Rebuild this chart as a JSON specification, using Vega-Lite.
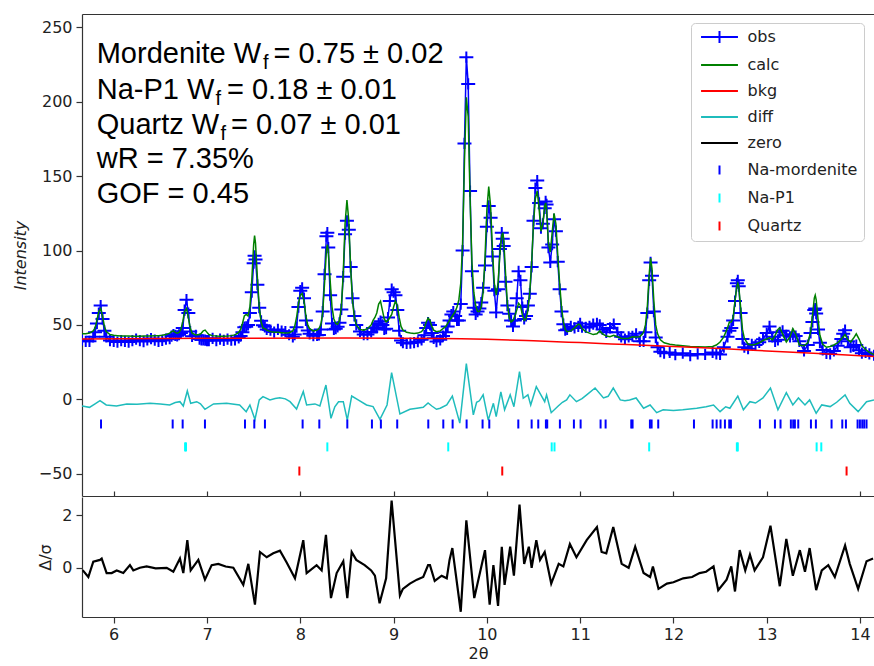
{
  "$schema": "https://vega.github.io/schema/vega-lite/v6.json",
  "padding": {"left": 12, "top": 14, "right": 0, "bottom": 0},
  "spacing": 0,
  "datasets": {
    "prof": [
      {"t":5.66,"calc":44,"obs":40},{"t":5.70,"calc":44,"obs":39},{"t":5.74,"calc":44.5,"obs":39},{"t":5.78,"calc":46,"obs":42},{"t":5.80,"calc":48,"obs":45},{"t":5.82,"calc":53,"obs":51},{"t":5.84,"calc":59,"obs":58},{"t":5.86,"calc":61,"obs":63},{"t":5.88,"calc":56,"obs":54},{"t":5.90,"calc":49,"obs":46},{"t":5.92,"calc":45.5,"obs":42},{"t":5.96,"calc":43.5,"obs":39.5},{"t":6.00,"calc":43,"obs":39},{"t":6.04,"calc":42.8,"obs":38.5},{"t":6.08,"calc":42.6,"obs":39.5},{"t":6.12,"calc":42.5,"obs":39},{"t":6.16,"calc":42.5,"obs":38.5},{"t":6.20,"calc":42.4,"obs":39.5},{"t":6.24,"calc":42.4,"obs":40.5},{"t":6.28,"calc":42.4,"obs":39.5},{"t":6.32,"calc":42.5,"obs":38.8},{"t":6.36,"calc":42.5,"obs":40},{"t":6.40,"calc":42.6,"obs":40.8},{"t":6.44,"calc":42.7,"obs":39.8},{"t":6.48,"calc":42.8,"obs":39},{"t":6.52,"calc":43,"obs":39.6},{"t":6.56,"calc":43.5,"obs":40.5},{"t":6.60,"calc":44.5,"obs":40.7},{"t":6.62,"calc":45.5,"obs":42.5},{"t":6.64,"calc":46,"obs":43.5},{"t":6.66,"calc":45,"obs":43},{"t":6.68,"calc":44.5,"obs":42.7},{"t":6.70,"calc":45,"obs":43.4},{"t":6.72,"calc":47,"obs":44.5},{"t":6.74,"calc":52,"obs":48},{"t":6.76,"calc":59,"obs":60},{"t":6.78,"calc":61,"obs":67},{"t":6.80,"calc":55,"obs":58},{"t":6.82,"calc":48,"obs":45.5},{"t":6.84,"calc":44.5,"obs":42.3},{"t":6.88,"calc":43.2,"obs":43},{"t":6.92,"calc":43.5,"obs":40.5},{"t":6.94,"calc":44.5,"obs":40},{"t":6.96,"calc":46,"obs":40},{"t":6.98,"calc":46.5,"obs":39.8},{"t":7.00,"calc":45,"obs":39.5},{"t":7.02,"calc":43.5,"obs":39.5},{"t":7.06,"calc":42.8,"obs":41},{"t":7.10,"calc":42.5,"obs":39.5},{"t":7.14,"calc":42.4,"obs":40.5},{"t":7.18,"calc":42.4,"obs":39.6},{"t":7.22,"calc":42.5,"obs":40.5},{"t":7.26,"calc":42.8,"obs":39.7},{"t":7.30,"calc":43.3,"obs":39.9},{"t":7.34,"calc":45,"obs":41.3},{"t":7.36,"calc":47,"obs":42.5},{"t":7.38,"calc":51,"obs":45},{"t":7.40,"calc":56,"obs":48.5},{"t":7.42,"calc":57,"obs":48.7},{"t":7.44,"calc":56,"obs":50},{"t":7.46,"calc":62,"obs":58},{"t":7.48,"calc":80,"obs":72},{"t":7.50,"calc":104,"obs":91.5},{"t":7.51,"calc":110,"obs":96.5},{"t":7.52,"calc":105,"obs":94},{"t":7.54,"calc":82,"obs":77},{"t":7.56,"calc":62,"obs":61.6},{"t":7.58,"calc":52,"obs":52.8},{"t":7.60,"calc":48,"obs":49.8},{"t":7.62,"calc":47.5,"obs":48.7},{"t":7.64,"calc":46.5,"obs":47},{"t":7.68,"calc":45.5,"obs":46.5},{"t":7.72,"calc":45,"obs":45.2},{"t":7.76,"calc":45,"obs":47},{"t":7.80,"calc":44.8,"obs":45.8},{"t":7.84,"calc":44.5,"obs":45.5},{"t":7.88,"calc":44.8,"obs":43.4},{"t":7.92,"calc":46,"obs":42},{"t":7.94,"calc":49,"obs":43.5},{"t":7.96,"calc":55,"obs":48.5},{"t":7.98,"calc":64,"obs":62},{"t":8.00,"calc":70,"obs":73},{"t":8.02,"calc":71,"obs":75},{"t":8.04,"calc":66,"obs":68},{"t":8.06,"calc":56,"obs":53},{"t":8.08,"calc":50,"obs":46.2},{"t":8.10,"calc":47.5,"obs":44},{"t":8.14,"calc":46,"obs":42.8},{"t":8.18,"calc":46.5,"obs":43},{"t":8.20,"calc":47.5,"obs":43.3},{"t":8.22,"calc":50,"obs":47},{"t":8.24,"calc":58,"obs":59},{"t":8.26,"calc":78,"obs":84},{"t":8.28,"calc":100,"obs":109.6},{"t":8.29,"calc":104,"obs":112},{"t":8.30,"calc":100,"obs":102},{"t":8.32,"calc":80,"obs":70},{"t":8.34,"calc":62,"obs":51},{"t":8.36,"calc":54,"obs":47},{"t":8.38,"calc":51,"obs":47.5},{"t":8.40,"calc":50.5,"obs":48.7},{"t":8.42,"calc":53,"obs":51.4},{"t":8.44,"calc":62,"obs":60.4},{"t":8.46,"calc":84,"obs":82.4},{"t":8.48,"calc":118,"obs":111},{"t":8.50,"calc":134,"obs":120},{"t":8.52,"calc":120,"obs":114},{"t":8.54,"calc":88,"obs":89},{"t":8.56,"calc":66,"obs":68},{"t":8.58,"calc":55,"obs":56},{"t":8.60,"calc":50,"obs":50},{"t":8.64,"calc":47,"obs":45.5},{"t":8.68,"calc":46.5,"obs":43.5},{"t":8.72,"calc":47.5,"obs":43.5},{"t":8.76,"calc":50,"obs":45.3},{"t":8.78,"calc":53,"obs":48},{"t":8.80,"calc":55,"obs":48},{"t":8.82,"calc":58,"obs":48},{"t":8.84,"calc":64,"obs":51},{"t":8.86,"calc":66,"obs":52.5},{"t":8.88,"calc":60,"obs":50},{"t":8.90,"calc":54,"obs":47},{"t":8.92,"calc":52,"obs":47.5},{"t":8.94,"calc":53,"obs":55},{"t":8.96,"calc":55,"obs":66},{"t":8.98,"calc":57,"obs":74},{"t":9.00,"calc":62,"obs":72},{"t":9.02,"calc":66,"obs":70},{"t":9.04,"calc":63,"obs":60},{"t":9.06,"calc":55,"obs":46},{"t":9.08,"calc":49,"obs":39.5},{"t":9.10,"calc":46.5,"obs":38},{"t":9.14,"calc":45,"obs":37.5},{"t":9.18,"calc":44.5,"obs":37.8},{"t":9.22,"calc":44.3,"obs":38.1},{"t":9.26,"calc":44.5,"obs":38.7},{"t":9.30,"calc":45.5,"obs":40},{"t":9.33,"calc":48,"obs":43},{"t":9.35,"calc":52,"obs":48},{"t":9.37,"calc":54.5,"obs":51.5},{"t":9.39,"calc":53,"obs":50},{"t":9.41,"calc":49,"obs":44.5},{"t":9.43,"calc":46.5,"obs":41},{"t":9.46,"calc":45.5,"obs":38.8},{"t":9.50,"calc":46,"obs":40},{"t":9.53,"calc":47.5,"obs":42.5},{"t":9.56,"calc":49,"obs":45},{"t":9.58,"calc":51,"obs":49},{"t":9.60,"calc":53,"obs":53},{"t":9.62,"calc":55,"obs":57},{"t":9.64,"calc":57,"obs":59},{"t":9.66,"calc":59,"obs":56},{"t":9.68,"calc":62,"obs":53},{"t":9.70,"calc":67,"obs":53},{"t":9.72,"calc":78,"obs":64},{"t":9.74,"calc":105,"obs":100},{"t":9.76,"calc":160,"obs":172},{"t":9.78,"calc":203,"obs":230},{"t":9.80,"calc":190,"obs":212},{"t":9.82,"calc":135,"obs":140},{"t":9.84,"calc":92,"obs":86},{"t":9.86,"calc":72,"obs":61.5},{"t":9.88,"calc":63,"obs":57},{"t":9.90,"calc":59,"obs":59},{"t":9.92,"calc":59,"obs":61},{"t":9.94,"calc":62,"obs":65},{"t":9.96,"calc":72,"obs":75},{"t":9.98,"calc":95,"obs":90},{"t":10.00,"calc":127,"obs":116},{"t":10.02,"calc":143,"obs":130},{"t":10.04,"calc":130,"obs":122},{"t":10.06,"calc":100,"obs":96},{"t":10.08,"calc":78,"obs":73},{"t":10.10,"calc":70,"obs":58.3},{"t":10.12,"calc":78,"obs":74},{"t":10.14,"calc":98,"obs":101},{"t":10.16,"calc":110,"obs":112},{"t":10.17,"calc":112,"obs":108},{"t":10.18,"calc":108,"obs":103},{"t":10.20,"calc":85,"obs":79},{"t":10.22,"calc":64,"obs":63},{"t":10.24,"calc":55,"obs":57.5},{"t":10.26,"calc":52,"obs":53},{"t":10.28,"calc":53,"obs":49},{"t":10.30,"calc":56,"obs":53},{"t":10.32,"calc":60,"obs":68},{"t":10.34,"calc":64.5,"obs":86},{"t":10.36,"calc":63,"obs":80},{"t":10.38,"calc":57,"obs":62},{"t":10.40,"calc":53,"obs":54},{"t":10.42,"calc":54,"obs":56},{"t":10.44,"calc":60,"obs":63},{"t":10.46,"calc":72,"obs":71},{"t":10.48,"calc":92,"obs":89},{"t":10.50,"calc":118,"obs":120},{"t":10.52,"calc":135,"obs":142},{"t":10.54,"calc":140,"obs":147},{"t":10.56,"calc":128,"obs":132},{"t":10.58,"calc":113,"obs":115},{"t":10.60,"calc":118,"obs":118},{"t":10.62,"calc":130,"obs":128.4},{"t":10.63,"calc":132,"obs":133},{"t":10.64,"calc":128,"obs":131},{"t":10.66,"calc":105,"obs":102},{"t":10.68,"calc":99,"obs":92},{"t":10.70,"calc":112,"obs":104},{"t":10.72,"calc":125,"obs":121},{"t":10.74,"calc":118,"obs":113},{"t":10.76,"calc":97,"obs":92.5},{"t":10.78,"calc":78,"obs":74},{"t":10.80,"calc":62,"obs":59},{"t":10.82,"calc":52,"obs":50.5},{"t":10.84,"calc":47,"obs":46.5},{"t":10.86,"calc":45.5,"obs":47},{"t":10.90,"calc":46,"obs":49},{"t":10.94,"calc":48,"obs":48},{"t":10.98,"calc":50.5,"obs":49},{"t":11.00,"calc":50,"obs":51},{"t":11.02,"calc":47.5,"obs":48.5},{"t":11.06,"calc":45.5,"obs":48.3},{"t":11.10,"calc":44.5,"obs":49},{"t":11.14,"calc":43.5,"obs":50.5},{"t":11.18,"calc":44,"obs":51},{"t":11.21,"calc":46,"obs":50},{"t":11.24,"calc":44,"obs":47},{"t":11.28,"calc":42.5,"obs":45},{"t":11.32,"calc":42,"obs":48},{"t":11.36,"calc":43,"obs":50.6},{"t":11.40,"calc":42,"obs":45},{"t":11.44,"calc":41,"obs":42},{"t":11.48,"calc":40.8,"obs":40.4},{"t":11.52,"calc":41,"obs":42},{"t":11.56,"calc":42,"obs":42.4},{"t":11.60,"calc":41.8,"obs":44},{"t":11.64,"calc":42,"obs":39},{"t":11.68,"calc":45,"obs":39},{"t":11.70,"calc":50,"obs":45},{"t":11.72,"calc":62,"obs":58},{"t":11.74,"calc":84,"obs":80},{"t":11.755,"calc":95,"obs":92},{"t":11.77,"calc":88,"obs":83},{"t":11.79,"calc":66,"obs":59},{"t":11.81,"calc":50,"obs":41.5},{"t":11.83,"calc":44,"obs":35},{"t":11.86,"calc":40,"obs":32},{"t":11.90,"calc":38,"obs":31},{"t":11.96,"calc":37,"obs":31.5},{"t":12.02,"calc":36.5,"obs":30},{"t":12.10,"calc":36,"obs":31},{"t":12.18,"calc":35.5,"obs":29.4},{"t":12.26,"calc":35.3,"obs":30.5},{"t":12.34,"calc":35.2,"obs":30.2},{"t":12.42,"calc":35.5,"obs":31.5},{"t":12.46,"calc":36.5,"obs":30.5},{"t":12.50,"calc":38.5,"obs":30.2},{"t":12.54,"calc":42,"obs":35},{"t":12.58,"calc":48,"obs":42},{"t":12.60,"calc":52,"obs":46},{"t":12.62,"calc":52,"obs":48},{"t":12.64,"calc":55,"obs":53},{"t":12.66,"calc":66,"obs":66},{"t":12.68,"calc":76,"obs":78},{"t":12.69,"calc":78,"obs":80},{"t":12.70,"calc":76,"obs":76},{"t":12.72,"calc":62,"obs":58},{"t":12.74,"calc":47,"obs":40.5},{"t":12.76,"calc":41,"obs":35},{"t":12.80,"calc":37,"obs":34},{"t":12.84,"calc":36.5,"obs":37},{"t":12.88,"calc":37,"obs":36.5},{"t":12.92,"calc":38,"obs":38.3},{"t":12.96,"calc":39.5,"obs":40.4},{"t":13.00,"calc":40.5,"obs":44.5},{"t":13.03,"calc":41.5,"obs":49},{"t":13.06,"calc":40,"obs":42},{"t":13.09,"calc":43,"obs":39},{"t":13.12,"calc":47,"obs":40},{"t":13.14,"calc":48,"obs":45},{"t":13.17,"calc":44,"obs":46},{"t":13.21,"calc":38.5,"obs":43},{"t":13.25,"calc":42,"obs":42},{"t":13.28,"calc":47.5,"obs":43.7},{"t":13.31,"calc":44,"obs":42.5},{"t":13.35,"calc":36.5,"obs":39},{"t":13.40,"calc":36,"obs":32.5},{"t":13.44,"calc":38,"obs":36.5},{"t":13.47,"calc":45,"obs":44.6},{"t":13.49,"calc":56,"obs":52},{"t":13.51,"calc":68,"obs":60},{"t":13.52,"calc":70,"obs":61},{"t":13.53,"calc":67,"obs":57.6},{"t":13.55,"calc":54,"obs":47},{"t":13.57,"calc":43,"obs":38},{"t":13.60,"calc":37,"obs":33.2},{"t":13.64,"calc":35,"obs":30.8},{"t":13.68,"calc":35.5,"obs":30.6},{"t":13.72,"calc":36.5,"obs":32.5},{"t":13.76,"calc":38,"obs":36},{"t":13.80,"calc":40.5,"obs":40.5},{"t":13.82,"calc":42,"obs":44},{"t":13.84,"calc":43.5,"obs":46.5},{"t":13.87,"calc":40,"obs":39},{"t":13.90,"calc":38.5,"obs":35},{"t":13.93,"calc":41,"obs":35.5},{"t":13.96,"calc":44,"obs":36.5},{"t":13.99,"calc":40.5,"obs":33},{"t":14.02,"calc":36,"obs":31},{"t":14.06,"calc":33.5,"obs":31.5},{"t":14.10,"calc":31.5,"obs":30.5},{"t":14.15,"calc":30,"obs":29.6}
    ],
    "bkg": [
      {"t":5.66,"b":40.6},{"t":6.5,"b":40.9},{"t":7.5,"b":41.1},{"t":8.5,"b":41.2},{"t":9.5,"b":40.9},{"t":10.0,"b":40.3},{"t":10.5,"b":39.3},{"t":11.0,"b":38.1},{"t":11.5,"b":36.8},{"t":12.0,"b":35.5},{"t":12.5,"b":34.1},{"t":13.0,"b":32.5},{"t":13.5,"b":31.0},{"t":14.0,"b":29.3},{"t":14.15,"b":28.8}
    ],
    "diff": [
      {"t":5.66,"d":-4.5},{"t":5.74,"d":-5.4},{"t":5.80,"d":-3},{"t":5.853,"d":-0.9},{"t":5.92,"d":-3.8},{"t":6.03,"d":-4.5},{"t":6.14,"d":-3.1},{"t":6.25,"d":-3.3},{"t":6.39,"d":-2.7},{"t":6.50,"d":-3.2},{"t":6.60,"d":-3.8},{"t":6.66,"d":-2.2},{"t":6.71,"d":-1.6},{"t":6.746,"d":-4.5},{"t":6.789,"d":5.6},{"t":6.825,"d":-2.7},{"t":6.89,"d":-1.6},{"t":6.93,"d":-3},{"t":6.978,"d":-6.7},{"t":7.07,"d":-3.1},{"t":7.21,"d":-2.7},{"t":7.35,"d":-3.8},{"t":7.42,"d":-8.3},{"t":7.46,"d":-3.8},{"t":7.514,"d":-13.5},{"t":7.56,"d":-0.4},{"t":7.60,"d":1.8},{"t":7.675,"d":-0.4},{"t":7.73,"d":0.5},{"t":7.78,"d":1.1},{"t":7.84,"d":0.3},{"t":7.89,"d":-1.6},{"t":7.96,"d":-6.5},{"t":8.032,"d":5.2},{"t":8.068,"d":-3.8},{"t":8.157,"d":-3.1},{"t":8.21,"d":-4.5},{"t":8.275,"d":9.6},{"t":8.329,"d":-12.8},{"t":8.37,"d":-5},{"t":8.41,"d":-1.6},{"t":8.461,"d":-1.6},{"t":8.504,"d":-13.9},{"t":8.551,"d":2.2},{"t":8.62,"d":-0.4},{"t":8.71,"d":-3.8},{"t":8.78,"d":-4.9},{"t":8.854,"d":-13.5},{"t":8.93,"d":-3.8},{"t":8.979,"d":18},{"t":9.068,"d":-9.9},{"t":9.175,"d":-6.7},{"t":9.25,"d":-6},{"t":9.318,"d":-5.4},{"t":9.37,"d":-2.5},{"t":9.41,"d":-4.5},{"t":9.46,"d":-6.7},{"t":9.50,"d":-6},{"t":9.57,"d":-3.8},{"t":9.63,"d":2.2},{"t":9.71,"d":-16},{"t":9.78,"d":24},{"t":9.855,"d":-10.5},{"t":9.89,"d":-2},{"t":9.92,"d":-1},{"t":9.96,"d":3},{"t":10.015,"d":-14},{"t":10.07,"d":-2.7},{"t":10.10,"d":-11.7},{"t":10.15,"d":5},{"t":10.19,"d":-7},{"t":10.25,"d":3},{"t":10.29,"d":-5},{"t":10.35,"d":18.6},{"t":10.39,"d":0.7},{"t":10.44,"d":3},{"t":10.47,"d":-3.8},{"t":10.53,"d":8.5},{"t":10.57,"d":4},{"t":10.62,"d":-1.6},{"t":10.64,"d":3},{"t":10.69,"d":-9},{"t":10.765,"d":-4.5},{"t":10.81,"d":-2},{"t":10.855,"d":-0.4},{"t":10.89,"d":3},{"t":10.96,"d":-1.6},{"t":11.02,"d":0.5},{"t":11.07,"d":3},{"t":11.16,"d":7.6},{"t":11.25,"d":0.9},{"t":11.30,"d":2},{"t":11.355,"d":7.6},{"t":11.43,"d":-0.4},{"t":11.48,"d":-1},{"t":11.53,"d":-0.4},{"t":11.60,"d":0.9},{"t":11.68,"d":-6},{"t":11.75,"d":-3.8},{"t":11.82,"d":-9},{"t":11.89,"d":-7},{"t":12.0,"d":-7.5},{"t":12.1,"d":-7},{"t":12.25,"d":-6},{"t":12.35,"d":-5},{"t":12.43,"d":-3.8},{"t":12.50,"d":-8.3},{"t":12.56,"d":-5},{"t":12.605,"d":-6},{"t":12.69,"d":2.2},{"t":12.75,"d":-7},{"t":12.82,"d":-1.6},{"t":12.88,"d":-2.5},{"t":12.96,"d":0.9},{"t":13.04,"d":7.6},{"t":13.12,"d":-7},{"t":13.21,"d":4.5},{"t":13.28,"d":-3.8},{"t":13.34,"d":0.9},{"t":13.41,"d":-3.8},{"t":13.46,"d":-0.4},{"t":13.53,"d":-9.4},{"t":13.59,"d":-3.8},{"t":13.68,"d":-4.9},{"t":13.75,"d":-2},{"t":13.84,"d":3},{"t":13.89,"d":-2.7},{"t":13.98,"d":-8.3},{"t":14.07,"d":-1.6},{"t":14.15,"d":-0.4}
    ],
    "dsig": [
      {"t":5.667,"z":-0.09},{"t":5.728,"z":-0.35},{"t":5.781,"z":0.23},{"t":5.853,"z":0.3},{"t":5.871,"z":0.35},{"t":5.924,"z":-0.2},{"t":5.978,"z":-0.2},{"t":6.032,"z":-0.1},{"t":6.103,"z":-0.2},{"t":6.174,"z":0.1},{"t":6.21,"z":-0.1},{"t":6.28,"z":0.0},{"t":6.353,"z":0.05},{"t":6.45,"z":-0.02},{"t":6.568,"z":0.0},{"t":6.639,"z":-0.15},{"t":6.71,"z":0.35},{"t":6.746,"z":-0.2},{"t":6.789,"z":1.05},{"t":6.825,"z":-0.1},{"t":6.907,"z":0.3},{"t":6.978,"z":-0.45},{"t":7.05,"z":0.1},{"t":7.121,"z":0.15},{"t":7.2,"z":0.05},{"t":7.282,"z":0.0},{"t":7.389,"z":-0.65},{"t":7.443,"z":0.15},{"t":7.514,"z":-1.4},{"t":7.568,"z":0.6},{"t":7.64,"z":0.4},{"t":7.71,"z":0.55},{"t":7.782,"z":0.65},{"t":7.854,"z":0.2},{"t":7.943,"z":-0.4},{"t":8.032,"z":1.05},{"t":8.068,"z":-0.2},{"t":8.175,"z":0.1},{"t":8.229,"z":-0.1},{"t":8.275,"z":1.25},{"t":8.329,"z":-1.15},{"t":8.39,"z":-0.2},{"t":8.461,"z":0.25},{"t":8.504,"z":-1.15},{"t":8.551,"z":0.6},{"t":8.60,"z":0.3},{"t":8.69,"z":0.1},{"t":8.76,"z":-0.1},{"t":8.80,"z":-0.3},{"t":8.85,"z":-1.35},{"t":8.92,"z":-0.4},{"t":8.979,"z":2.55},{"t":9.068,"z":-1.05},{"t":9.10,"z":-0.8},{"t":9.175,"z":-0.6},{"t":9.25,"z":-0.45},{"t":9.318,"z":-0.35},{"t":9.37,"z":0.1},{"t":9.39,"z":0.1},{"t":9.441,"z":-0.5},{"t":9.515,"z":-0.3},{"t":9.57,"z":-0.4},{"t":9.60,"z":0.3},{"t":9.63,"z":0.75},{"t":9.72,"z":-1.67},{"t":9.78,"z":1.8},{"t":9.865,"z":-1.15},{"t":9.98,"z":0.67},{"t":10.03,"z":-1.4},{"t":10.07,"z":0.1},{"t":10.12,"z":-1.45},{"t":10.16,"z":0.8},{"t":10.19,"z":-0.65},{"t":10.25,"z":0.8},{"t":10.29,"z":-0.3},{"t":10.35,"z":2.4},{"t":10.40,"z":0.15},{"t":10.45,"z":0.8},{"t":10.48,"z":0.0},{"t":10.53,"z":1.05},{"t":10.57,"z":0.3},{"t":10.62,"z":0.6},{"t":10.69,"z":-0.6},{"t":10.77,"z":0.15},{"t":10.82,"z":0.05},{"t":10.89,"z":0.9},{"t":10.96,"z":0.4},{"t":11.07,"z":1.05},{"t":11.18,"z":1.55},{"t":11.23,"z":0.6},{"t":11.28,"z":0.55},{"t":11.355,"z":1.55},{"t":11.445,"z":0.15},{"t":11.52,"z":0.0},{"t":11.59,"z":0.8},{"t":11.68,"z":-0.2},{"t":11.75,"z":-0.35},{"t":11.78,"z":0.05},{"t":11.84,"z":-0.8},{"t":11.93,"z":-0.6},{"t":12.0,"z":-0.55},{"t":12.105,"z":-0.4},{"t":12.2,"z":-0.35},{"t":12.28,"z":-0.2},{"t":12.35,"z":-0.15},{"t":12.43,"z":0.05},{"t":12.48,"z":-0.85},{"t":12.57,"z":-0.45},{"t":12.62,"z":0.05},{"t":12.66,"z":-0.9},{"t":12.71,"z":0.67},{"t":12.77,"z":-0.1},{"t":12.82,"z":0.5},{"t":12.87,"z":-0.1},{"t":12.96,"z":0.4},{"t":13.04,"z":1.6},{"t":13.14,"z":-0.7},{"t":13.21,"z":1.1},{"t":13.28,"z":-0.3},{"t":13.355,"z":0.67},{"t":13.41,"z":-0.15},{"t":13.46,"z":0.75},{"t":13.53,"z":-0.85},{"t":13.59,"z":-0.1},{"t":13.66,"z":0.1},{"t":13.73,"z":-0.35},{"t":13.84,"z":0.85},{"t":13.89,"z":0.15},{"t":13.98,"z":-0.8},{"t":14.07,"z":0.25},{"t":14.14,"z":0.35}
    ],
    "ticks": [
      {"t":5.864,"phase":"Na-mordenite","y":-16.6},{"t":6.632,"phase":"Na-mordenite","y":-16.6},{"t":6.739,"phase":"Na-mordenite","y":-16.6},{"t":6.978,"phase":"Na-mordenite","y":-16.6},{"t":7.407,"phase":"Na-mordenite","y":-16.6},{"t":7.507,"phase":"Na-mordenite","y":-16.6},{"t":7.621,"phase":"Na-mordenite","y":-16.6},{"t":8.025,"phase":"Na-mordenite","y":-16.6},{"t":8.204,"phase":"Na-mordenite","y":-16.6},{"t":8.504,"phase":"Na-mordenite","y":-16.6},{"t":8.768,"phase":"Na-mordenite","y":-16.6},{"t":8.864,"phase":"Na-mordenite","y":-16.6},{"t":9.039,"phase":"Na-mordenite","y":-16.6},{"t":9.372,"phase":"Na-mordenite","y":-16.6},{"t":9.533,"phase":"Na-mordenite","y":-16.6},{"t":9.633,"phase":"Na-mordenite","y":-16.6},{"t":9.783,"phase":"Na-mordenite","y":-16.6},{"t":9.954,"phase":"Na-mordenite","y":-16.6},{"t":10.026,"phase":"Na-mordenite","y":-16.6},{"t":10.337,"phase":"Na-mordenite","y":-16.6},{"t":10.48,"phase":"Na-mordenite","y":-16.6},{"t":10.551,"phase":"Na-mordenite","y":-16.6},{"t":10.633,"phase":"Na-mordenite","y":-16.6},{"t":10.647,"phase":"Na-mordenite","y":-16.6},{"t":10.783,"phase":"Na-mordenite","y":-16.6},{"t":10.933,"phase":"Na-mordenite","y":-16.6},{"t":11.005,"phase":"Na-mordenite","y":-16.6},{"t":11.219,"phase":"Na-mordenite","y":-16.6},{"t":11.273,"phase":"Na-mordenite","y":-16.6},{"t":11.548,"phase":"Na-mordenite","y":-16.6},{"t":11.562,"phase":"Na-mordenite","y":-16.6},{"t":11.748,"phase":"Na-mordenite","y":-16.6},{"t":11.766,"phase":"Na-mordenite","y":-16.6},{"t":11.837,"phase":"Na-mordenite","y":-16.6},{"t":12.22,"phase":"Na-mordenite","y":-16.6},{"t":12.42,"phase":"Na-mordenite","y":-16.6},{"t":12.463,"phase":"Na-mordenite","y":-16.6},{"t":12.505,"phase":"Na-mordenite","y":-16.6},{"t":12.552,"phase":"Na-mordenite","y":-16.6},{"t":12.598,"phase":"Na-mordenite","y":-16.6},{"t":12.616,"phase":"Na-mordenite","y":-16.6},{"t":12.927,"phase":"Na-mordenite","y":-16.6},{"t":13.088,"phase":"Na-mordenite","y":-16.6},{"t":13.148,"phase":"Na-mordenite","y":-16.6},{"t":13.259,"phase":"Na-mordenite","y":-16.6},{"t":13.284,"phase":"Na-mordenite","y":-16.6},{"t":13.302,"phase":"Na-mordenite","y":-16.6},{"t":13.338,"phase":"Na-mordenite","y":-16.6},{"t":13.474,"phase":"Na-mordenite","y":-16.6},{"t":13.527,"phase":"Na-mordenite","y":-16.6},{"t":13.695,"phase":"Na-mordenite","y":-16.6},{"t":13.81,"phase":"Na-mordenite","y":-16.6},{"t":13.849,"phase":"Na-mordenite","y":-16.6},{"t":13.974,"phase":"Na-mordenite","y":-16.6},{"t":13.999,"phase":"Na-mordenite","y":-16.6},{"t":14.024,"phase":"Na-mordenite","y":-16.6},{"t":14.045,"phase":"Na-mordenite","y":-16.6},{"t":14.07,"phase":"Na-mordenite","y":-16.6},
      {"t":6.765,"phase":"Na-P1","y":-32},{"t":6.775,"phase":"Na-P1","y":-32},{"t":8.29,"phase":"Na-P1","y":-32},{"t":9.586,"phase":"Na-P1","y":-32},{"t":10.695,"phase":"Na-P1","y":-32},{"t":10.725,"phase":"Na-P1","y":-32},{"t":11.74,"phase":"Na-P1","y":-32},{"t":12.68,"phase":"Na-P1","y":-32},{"t":12.69,"phase":"Na-P1","y":-32},{"t":13.535,"phase":"Na-P1","y":-32},{"t":13.585,"phase":"Na-P1","y":-32},
      {"t":7.99,"phase":"Quartz","y":-48.2},{"t":10.165,"phase":"Quartz","y":-48.2},{"t":13.856,"phase":"Quartz","y":-48.2}
    ],
    "ann": [
      {"t":5.8176,"y":226.1,"s":"Mordenite W"},{"t":7.714,"y":226.1,"s":"= 0.75 ± 0.02"},
      {"t":5.8176,"y":202.1,"s":"Na-P1 W"},{"t":7.214,"y":202.1,"s":"= 0.18 ± 0.01"},
      {"t":5.8176,"y":178.5,"s":"Quartz W"},{"t":7.257,"y":178.5,"s":"= 0.07 ± 0.01"},
      {"t":5.8176,"y":155.5,"s":"wR = 7.35%"},
      {"t":5.8176,"y":131.9,"s":"GOF = 0.45"}
    ],
    "subs": [
      {"t":7.60,"y":222,"s":"f"},{"t":7.09,"y":198,"s":"f"},{"t":7.145,"y":174.5,"s":"f"}
    ]
  },
  "vconcat": [
    {
      "width": 792,
      "height": 482,
      "resolve": {"axis": {"x": "independent"}},
      "layer": [
        {
          "data": {"name": "prof"},
          "mark": {"type": "line", "color": "#0000ff", "strokeWidth": 1.5, "clip": true},
          "encoding": {
            "x": {"field": "t", "type": "quantitative", "scale": {"domain": [5.66, 14.15], "nice": false, "zero": false},
                  "axis": {"orient": "bottom", "labels": false, "title": null, "tickSize": -5, "values": [6,7,8,9,10,11,12,13,14]}},
            "y": {"field": "obs", "type": "quantitative", "scale": {"domain": [-65, 259], "nice": false, "zero": false},
                  "axis": {"title": "Intensity", "titleFontStyle": "italic", "values": [-50,0,50,100,150,200,250], "titlePadding": 10, "labelPadding": 4}}
          }
        },
        {
          "data": {"name": "prof"},
          "mark": {"type": "point", "shape": "M-1,0H1M0,-0.8V0.8", "filled": false, "size": 196, "strokeWidth": 2, "color": "#0000ff", "opacity": 1, "clip": true},
          "encoding": {
            "x": {"field": "t", "type": "quantitative", "axis": null},
            "y": {"field": "obs", "type": "quantitative"}
          }
        },
        {
          "data": {"name": "prof"},
          "mark": {"type": "line", "color": "#008000", "strokeWidth": 1.5, "clip": true},
          "encoding": {
            "x": {"field": "t", "type": "quantitative", "axis": null},
            "y": {"field": "calc", "type": "quantitative"}
          }
        },
        {
          "data": {"name": "bkg"},
          "mark": {"type": "line", "color": "#ff0000", "strokeWidth": 1.5, "interpolate": "monotone", "clip": true},
          "encoding": {
            "x": {"field": "t", "type": "quantitative", "axis": null},
            "y": {"field": "b", "type": "quantitative"}
          }
        },
        {
          "data": {"name": "diff"},
          "mark": {"type": "line", "color": "#1fbcbc", "strokeWidth": 1.5, "clip": true},
          "encoding": {
            "x": {"field": "t", "type": "quantitative", "axis": null},
            "y": {"field": "d", "type": "quantitative"}
          }
        },
        {
          "mark": {"type": "rule", "color": "#000000", "strokeWidth": 1.5},
          "encoding": {"y": {"datum": 0, "type": "quantitative"}}
        },
        {
          "data": {"name": "ticks"},
          "mark": {"type": "point", "filled": false, "size": 81, "strokeWidth": 2, "opacity": 1},
          "encoding": {
            "x": {"field": "t", "type": "quantitative", "axis": null},
            "y": {"field": "y", "type": "quantitative"},
            "color": {
              "field": "phase", "type": "nominal",
              "scale": {"domain": ["obs","calc","bkg","diff","zero","Na-mordenite","Na-P1","Quartz"],
                        "range": ["#0000ff","#008000","#ff0000","#1fbcbc","#000000","#0000ff","#00ffff","#ff0000"]},
              "legend": {
                "title": null, "orient": "none", "legendX": 609, "legendY": 9,
                "labelFont": "DejaVu Sans", "labelFontSize": 16, "labelColor": "#222222", "labelLimit": 300,
                "symbolSize": 81, "symbolOffset": 14.5, "labelOffset": 20, "rowPadding": 10, "padding": 6,
                "fillColor": "#ffffff", "strokeColor": "#cccccc", "cornerRadius": 4, "symbolStrokeWidth": 2
              }
            },
            "shape": {
              "field": "phase", "type": "nominal",
              "scale": {"domain": ["obs","calc","bkg","diff","zero","Na-mordenite","Na-P1","Quartz"],
                        "range": ["M-4.1,0H4.1M0,-1.33V1.33","M-4.1,0H4.1","M-4.1,0H4.1","M-4.1,0H4.1","M-4.1,0H4.1","M0,-1V1","M0,-1V1","M0,-1V1"]},
              "legend": {
                "title": null, "orient": "none", "legendX": 609, "legendY": 9,
                "labelFont": "DejaVu Sans", "labelFontSize": 16, "labelColor": "#222222", "labelLimit": 300,
                "symbolSize": 81, "symbolOffset": 14.5, "labelOffset": 20, "rowPadding": 10, "padding": 6,
                "fillColor": "#ffffff", "strokeColor": "#cccccc", "cornerRadius": 4, "symbolStrokeWidth": 2
              }
            }
          }
        },
        {
          "data": {"name": "ann"},
          "mark": {"type": "text", "font": "Liberation Sans", "fontSize": 29, "align": "left", "baseline": "alphabetic", "color": "#000000"},
          "encoding": {
            "x": {"field": "t", "type": "quantitative", "axis": {"orient": "top", "labels": false, "ticks": false, "title": null, "domain": true}},
            "y": {"field": "y", "type": "quantitative"},
            "text": {"field": "s", "type": "nominal"}
          }
        },
        {
          "data": {"name": "subs"},
          "mark": {"type": "text", "font": "Liberation Sans", "fontSize": 20, "align": "left", "baseline": "alphabetic", "color": "#000000"},
          "encoding": {
            "x": {"field": "t", "type": "quantitative", "axis": null},
            "y": {"field": "y", "type": "quantitative"},
            "text": {"field": "s", "type": "nominal"}
          }
        }
      ]
    },
    {
      "width": 792,
      "height": 120,
      "data": {"name": "dsig"},
      "mark": {"type": "line", "color": "#000000", "strokeWidth": 2.2, "clip": true},
      "encoding": {
        "x": {"field": "t", "type": "quantitative", "scale": {"domain": [5.66, 14.15], "nice": false, "zero": false},
              "axis": {"title": "2θ", "values": [6,7,8,9,10,11,12,13,14], "labelPadding": 3, "titlePadding": 3}},
        "y": {"field": "z", "type": "quantitative", "scale": {"domain": [-1.87, 2.69], "nice": false, "zero": false},
              "axis": {"title": "Δ/σ", "values": [0, 2], "titlePadding": 8, "labelPadding": 4}}
      }
    }
  ],
  "config": {
    "view": {"stroke": null},
    "axis": {"grid": false, "domain": true, "domainColor": "#333333", "domainWidth": 1.2, "labelFont": "DejaVu Sans", "titleFont": "DejaVu Sans", "labelFontSize": 16, "titleFontSize": 16, "titleFontWeight": "normal", "tickColor": "#333333", "labelColor": "#222222", "titleColor": "#222222", "tickSize": 6, "tickWidth": 1.2}
  }
}
